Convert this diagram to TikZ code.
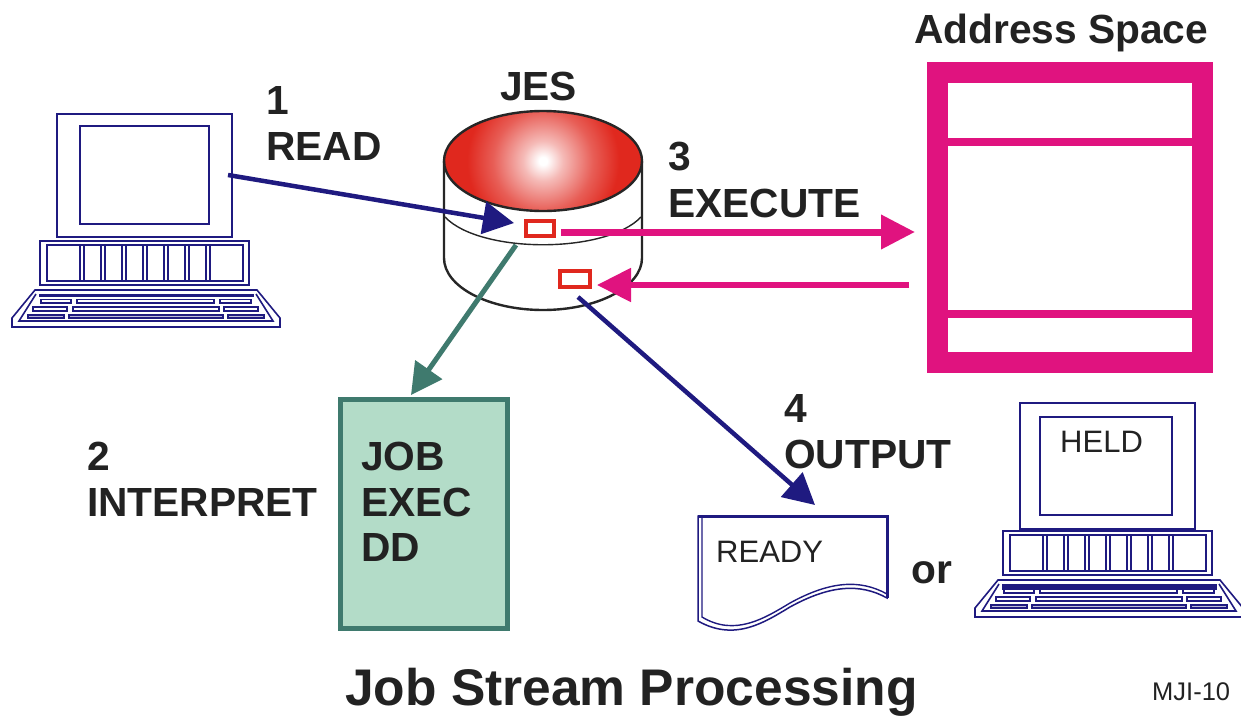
\documentclass[tikz,border=0pt]{standalone}
\usepackage{fontspec}
\setmainfont{Liberation Sans}
\usetikzlibrary{arrows.meta}
\definecolor{navy}{HTML}{1F1A80}
\definecolor{mag}{HTML}{E0137F}
\definecolor{teal2}{HTML}{3F7A6E}
\definecolor{boxfill}{HTML}{B3DCC8}
\definecolor{rd}{HTML}{E0281E}
\definecolor{ink}{HTML}{222222}
\pgfdeclareradialshading{diskshade}{\pgfpoint{0bp}{0bp}}{color(0bp)=(white);color(1bp)=(white);color(5bp)=(rd!32!white);color(12.5bp)=(rd!75!white);color(19bp)=(rd);color(25bp)=(rd);color(50bp)=(rd)}
\tikzset{
  x=1pt,y=-1pt,
  bigtxt/.style={anchor=base west,inner sep=0pt,text=ink,font=\fontsize{40.7}{42}\selectfont\bfseries},
  smalltxt/.style={anchor=base west,inner sep=0pt,text=ink,font=\fontsize{31}{33}\selectfont},
  pc/.style={draw=navy,line width=1.6pt,fill=white},
  pcbox/.style={pc,anchor=north west,inner sep=0pt,outer sep=0pt},
  diskline/.style={draw=black!85,line width=2.4pt},
  slot/.style={draw=rd,line width=4pt,fill=white,inner sep=0pt,outer sep=0pt,minimum width=28pt,minimum height=15pt},
  arr/.style={line width=4.5pt,-{Triangle[length=31pt,width=32pt]}},
  arrm/.style={line width=7pt,-{Triangle[length=34pt,width=33pt]}},
}
% base unit and keyboard; #3 = height of the top bar of the keyboard, #4 = draw of lowest key row
\newcommand{\pcbase}[4]{%
 \begin{scope}[shift={(#1,#2)}]
  \draw[pc] (40,241) rectangle (249,285);
  \draw[pc] (47,245) rectangle (243,281);
  \foreach \s in {80,101,122,143,164,185,206} {\draw[pc] (\s,245) rectangle (\s+4,281);}
  \draw[pc] (35,290) -- (257,290) -- (280,318) -- (280,327) -- (12,327) -- (12,318) -- cycle;
  \draw[pc] (36,294) -- (19,321) -- (273,321) -- (256,294);
  \fill[navy] (39,293.5) rectangle (254,293.5+#3);
  \draw[pc] (41,299.5) rectangle (71,303);
  \draw[pc] (77,299.5) rectangle (214,303);
  \draw[pc] (220,299.5) rectangle (251,303);
  \draw[pc] (33,307) rectangle (67,311);
  \draw[pc] (73,307) rectangle (219,311);
  \draw[pc] (224,307) rectangle (258,311);
  \draw[navy,line width=#4,fill=navy!30] (28,315) rectangle (64,318);
  \draw[navy,line width=#4,fill=navy!30] (69,315) rectangle (223,318);
  \draw[navy,line width=#4,fill=navy!30] (228,315) rectangle (264,318);
 \end{scope}}
\begin{document}
\begin{tikzpicture}
\useasboundingbox (0,0) rectangle (1241,715);
\fill[white] (0,0) rectangle (1241,715);
% terminal 1
\node[pcbox,minimum width=175pt,minimum height=123pt] (mon1) at (57,114) {};
\node[pcbox,minimum width=129pt,minimum height=98pt] (scr1) at (80,126) {};
\pcbase{0}{0}{3}{2pt}
\coordinate (pcout) at (228,175);
% terminal 2
\node[pcbox,minimum width=175pt,minimum height=126pt] (mon2) at (1020,403) {};
\node[pcbox,minimum width=132pt,minimum height=98pt] (scr2) at (1040,417) {};
\pcbase{963}{290}{6}{1.6pt}
\node[smalltxt] (held) at (1060,452) {HELD};
% disk
\begin{scope}
 \clip (543,161) ellipse [x radius=99,y radius=50];
 \shade[shading=diskshade] (543,161) circle [radius=100];
\end{scope}
\draw[diskline] (543,161) ellipse [x radius=99,y radius=50];
\draw[diskline] (444,161) -- (444,258) arc [start angle=180,end angle=360,x radius=99,y radius=-52] -- (642,161);
\draw[draw=black!85,line width=1.4pt] (445,217) .. controls (480,254) and (606,254) .. (641,217);
\node[bigtxt] (jes) at (500,100) {JES};
% slots
\node[slot] (slotin) at (539.5,228.5) {};
\node[slot,minimum width=30pt,minimum height=16pt] (slotout) at (575,279) {};
% address space
\node[draw=mag,line width=20.5pt,inner sep=0pt,outer sep=0pt,minimum width=265pt,minimum height=290pt,anchor=north west] (as) at (937.5,72.5) {};
\draw[mag,line width=8pt] (as.west |- 0,142) -- (as.east |- 0,142);
\draw[mag,line width=8pt] (as.west |- 0,314) -- (as.east |- 0,314);
\node[bigtxt] (astitle) at (914,43) {Address Space};
% job box
\node[draw=teal2,fill=boxfill,line width=5pt,inner sep=0pt,outer sep=0pt,minimum width=167pt,minimum height=229pt,anchor=north west] (job) at (340.5,399.5) {};
\node[bigtxt] (t1) at (361,470) {JOB};
\node[bigtxt] (t2) at (361,516) {EXEC};
\node[bigtxt] (t3) at (361,561) {DD};
% printout
\draw[draw=navy,line width=1.5pt,fill=white] (698,516) -- (887,516) -- (887,598) .. controls (860,583) and (830,585) .. (790,607) .. controls (765,622) and (735,642) .. (698,621) -- cycle;
\draw[draw=navy,line width=1.4pt] (702,516) -- (702,617) .. controls (735,637) and (765,618) .. (790,603) .. controls (830,581) and (860,579) .. (887,594);
\draw[navy,line width=3pt] (698,516) -- (887,516) -- (887,598);
\coordinate (paper) at (815,505);
\node[smalltxt] (ready) at (716,562) {READY};
% labels
\node[bigtxt] (l1) at (266,114) {1};
\node[bigtxt] (l1b) at (266,160) {READ};
\node[bigtxt] (l3) at (668,170) {3};
\node[bigtxt] (l3b) at (668,217) {EXECUTE};
\node[bigtxt] (l4) at (784,422) {4};
\node[bigtxt] (l4b) at (784,468) {OUTPUT};
\node[bigtxt] (l2) at (87,470) {2};
\node[bigtxt] (l2b) at (87,516) {INTERPRET};
\node[bigtxt] (lor) at (911,583) {or};
\node[anchor=base west,inner sep=0pt,text=ink,font=\fontsize{51.5}{54}\selectfont\bfseries] (title) at (345,705) {Job Stream Processing};
\node[anchor=base west,inner sep=0pt,text=ink,font=\fontsize{25.5}{27}\selectfont] (ref) at (1152,700) {MJI-10};
% connectors
\coordinate (a1) at (514,223);
\coordinate (a3s) at (561,232);
\coordinate (a3e) at (915,232);
\coordinate (b3s) at (909,285);
\coordinate (b3e) at (597,285);
\coordinate (gs) at (516,245);
\coordinate (ge) at (411,395);
\coordinate (o4) at (578,297);
\draw[arr,navy] (pcout) -- (a1);
\draw[arrm,mag] (a3s) -- (a3e);
\draw[arrm,mag,line width=5.3pt] (b3s) -- (b3e);
\draw[arr,teal2,line width=5pt] (gs) -- (ge);
\draw[arr,navy] (o4) -- (paper);
\end{tikzpicture}
\end{document}
